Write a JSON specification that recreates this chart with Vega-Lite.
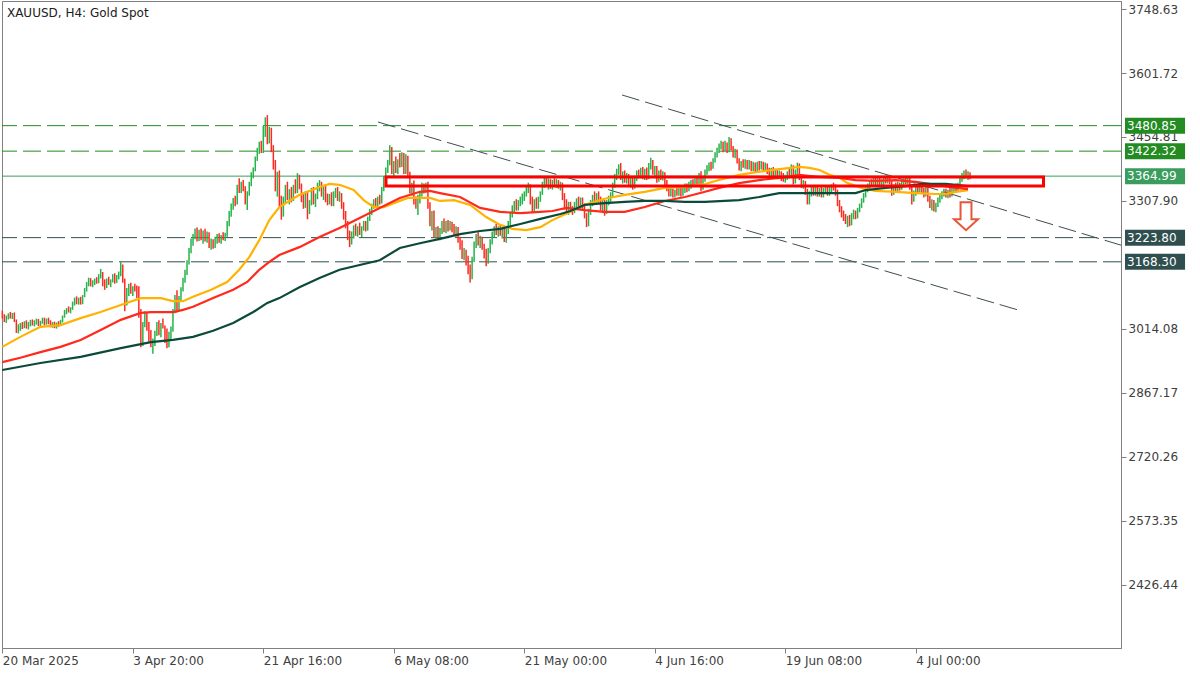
{
"$schema":"https://vega.github.io/schema/vega-lite/v6.json",
"autosize":"none","width":1119,"height":647,
"padding":{"left":2,"top":1,"right":79,"bottom":27},
"background":"white",
"config":{"view":{"stroke":"#808080","strokeWidth":1},"font":"DejaVu Sans"},
"datasets":{
"candles":[
{"i":0,"o":3050,"h":3056,"l":3038,"c":3040},{"i":1,"o":3040,"h":3048,"l":3030,"c":3034},{"i":2,"o":3034,"h":3045,"l":3028,"c":3041},{"i":3,"o":3041,"h":3050,"l":3036,"c":3047},{"i":4,"o":3047,"h":3053,"l":3038,"c":3042},{"i":5,"o":3042,"h":3051,"l":3037,"c":3048},{"i":6,"o":3048,"h":3052,"l":3030,"c":3033},{"i":7,"o":3033,"h":3036,"l":3005,"c":3012},{"i":8,"o":3012,"h":3025,"l":3004,"c":3018},{"i":9,"o":3018,"h":3028,"l":3010,"c":3024},
{"i":10,"o":3024,"h":3030,"l":3014,"c":3020},{"i":11,"o":3020,"h":3032,"l":3016,"c":3028},{"i":12,"o":3028,"h":3034,"l":3015,"c":3019},{"i":13,"o":3019,"h":3030,"l":3013,"c":3026},{"i":14,"o":3026,"h":3035,"l":3020,"c":3031},{"i":15,"o":3031,"h":3036,"l":3022,"c":3025},{"i":16,"o":3025,"h":3034,"l":3020,"c":3030},{"i":17,"o":3030,"h":3038,"l":3024,"c":3034},{"i":18,"o":3034,"h":3037,"l":3021,"c":3024},{"i":19,"o":3024,"h":3033,"l":3019,"c":3030},
{"i":20,"o":3030,"h":3040,"l":3026,"c":3036},{"i":21,"o":3036,"h":3040,"l":3022,"c":3026},{"i":22,"o":3026,"h":3038,"l":3024,"c":3035},{"i":23,"o":3035,"h":3040,"l":3025,"c":3028},{"i":24,"o":3028,"h":3034,"l":3018,"c":3022},{"i":25,"o":3022,"h":3030,"l":3017,"c":3027},{"i":26,"o":3027,"h":3031,"l":3016,"c":3020},{"i":27,"o":3020,"h":3029,"l":3015,"c":3026},{"i":28,"o":3026,"h":3032,"l":3019,"c":3023},{"i":29,"o":3023,"h":3035,"l":3021,"c":3032},
{"i":30,"o":3032,"h":3045,"l":3029,"c":3042},{"i":31,"o":3042,"h":3058,"l":3040,"c":3055},{"i":32,"o":3055,"h":3062,"l":3048,"c":3058},{"i":33,"o":3058,"h":3066,"l":3052,"c":3054},{"i":34,"o":3054,"h":3064,"l":3050,"c":3061},{"i":35,"o":3061,"h":3077,"l":3058,"c":3074},{"i":36,"o":3074,"h":3086,"l":3068,"c":3080},{"i":37,"o":3080,"h":3089,"l":3071,"c":3075},{"i":38,"o":3075,"h":3086,"l":3070,"c":3083},{"i":39,"o":3083,"h":3088,"l":3070,"c":3073},
{"i":40,"o":3073,"h":3092,"l":3071,"c":3090},{"i":41,"o":3090,"h":3108,"l":3087,"c":3104},{"i":42,"o":3104,"h":3122,"l":3100,"c":3118},{"i":43,"o":3118,"h":3132,"l":3112,"c":3127},{"i":44,"o":3127,"h":3131,"l":3112,"c":3116},{"i":45,"o":3116,"h":3126,"l":3110,"c":3122},{"i":46,"o":3122,"h":3130,"l":3115,"c":3127},{"i":47,"o":3127,"h":3133,"l":3118,"c":3121},{"i":48,"o":3121,"h":3140,"l":3119,"c":3136},{"i":49,"o":3136,"h":3152,"l":3130,"c":3141},
{"i":50,"o":3141,"h":3145,"l":3112,"c":3116},{"i":51,"o":3116,"h":3128,"l":3104,"c":3110},{"i":52,"o":3110,"h":3130,"l":3108,"c":3126},{"i":53,"o":3126,"h":3134,"l":3115,"c":3119},{"i":54,"o":3119,"h":3128,"l":3110,"c":3124},{"i":55,"o":3124,"h":3140,"l":3121,"c":3136},{"i":56,"o":3136,"h":3142,"l":3118,"c":3122},{"i":57,"o":3122,"h":3138,"l":3120,"c":3134},{"i":58,"o":3134,"h":3146,"l":3128,"c":3140},{"i":59,"o":3140,"h":3168,"l":3135,"c":3158},
{"i":60,"o":3158,"h":3162,"l":3120,"c":3125},{"i":61,"o":3125,"h":3130,"l":3055,"c":3072},{"i":62,"o":3072,"h":3108,"l":3068,"c":3102},{"i":63,"o":3102,"h":3118,"l":3090,"c":3112},{"i":64,"o":3112,"h":3120,"l":3095,"c":3100},{"i":65,"o":3100,"h":3112,"l":3090,"c":3108},{"i":66,"o":3108,"h":3118,"l":3100,"c":3104},{"i":67,"o":3104,"h":3114,"l":3085,"c":3090},{"i":68,"o":3090,"h":3112,"l":3040,"c":3048},{"i":69,"o":3048,"h":3060,"l":2972,"c":2985},
{"i":70,"o":2985,"h":3030,"l":2975,"c":3022},{"i":71,"o":3022,"h":3055,"l":3018,"c":3048},{"i":72,"o":3048,"h":3052,"l":3010,"c":3018},{"i":73,"o":3018,"h":3030,"l":2985,"c":2995},{"i":74,"o":2995,"h":3012,"l":2972,"c":2978},{"i":75,"o":2978,"h":2992,"l":2957,"c":2986},{"i":76,"o":2986,"h":3010,"l":2975,"c":3005},{"i":77,"o":3005,"h":3030,"l":2998,"c":3020},{"i":78,"o":3020,"h":3034,"l":3000,"c":3008},{"i":79,"o":3008,"h":3028,"l":2995,"c":3024},
{"i":80,"o":3024,"h":3038,"l":3015,"c":3018},{"i":81,"o":3018,"h":3022,"l":2982,"c":2988},{"i":82,"o":2988,"h":3015,"l":2970,"c":2978},{"i":83,"o":2978,"h":3008,"l":2972,"c":3002},{"i":84,"o":3002,"h":3020,"l":2990,"c":3012},{"i":85,"o":3012,"h":3060,"l":3008,"c":3055},{"i":86,"o":3055,"h":3092,"l":3050,"c":3085},{"i":87,"o":3085,"h":3103,"l":3052,"c":3060},{"i":88,"o":3060,"h":3090,"l":3055,"c":3084},{"i":89,"o":3084,"h":3110,"l":3078,"c":3104},
{"i":90,"o":3104,"h":3132,"l":3100,"c":3126},{"i":91,"o":3126,"h":3150,"l":3120,"c":3145},{"i":92,"o":3145,"h":3172,"l":3138,"c":3168},{"i":93,"o":3168,"h":3200,"l":3162,"c":3195},{"i":94,"o":3195,"h":3222,"l":3188,"c":3218},{"i":95,"o":3218,"h":3232,"l":3205,"c":3228},{"i":96,"o":3228,"h":3245,"l":3220,"c":3238},{"i":97,"o":3238,"h":3247,"l":3215,"c":3220},{"i":98,"o":3220,"h":3242,"l":3216,"c":3236},{"i":99,"o":3236,"h":3245,"l":3218,"c":3222},
{"i":100,"o":3222,"h":3240,"l":3210,"c":3234},{"i":101,"o":3234,"h":3244,"l":3215,"c":3218},{"i":102,"o":3218,"h":3238,"l":3212,"c":3230},{"i":103,"o":3230,"h":3236,"l":3200,"c":3206},{"i":104,"o":3206,"h":3222,"l":3196,"c":3215},{"i":105,"o":3215,"h":3220,"l":3198,"c":3204},{"i":106,"o":3204,"h":3226,"l":3200,"c":3220},{"i":107,"o":3220,"h":3232,"l":3210,"c":3226},{"i":108,"o":3226,"h":3234,"l":3212,"c":3216},{"i":109,"o":3216,"h":3230,"l":3210,"c":3226},
{"i":110,"o":3226,"h":3236,"l":3218,"c":3222},{"i":111,"o":3222,"h":3235,"l":3216,"c":3232},{"i":112,"o":3232,"h":3262,"l":3226,"c":3256},{"i":113,"o":3256,"h":3285,"l":3250,"c":3280},{"i":114,"o":3280,"h":3302,"l":3272,"c":3296},{"i":115,"o":3296,"h":3315,"l":3288,"c":3310},{"i":116,"o":3310,"h":3320,"l":3296,"c":3304},{"i":117,"o":3304,"h":3345,"l":3300,"c":3338},{"i":118,"o":3338,"h":3360,"l":3326,"c":3332},{"i":119,"o":3332,"h":3352,"l":3326,"c":3348},
{"i":120,"o":3348,"h":3356,"l":3330,"c":3336},{"i":121,"o":3336,"h":3342,"l":3300,"c":3306},{"i":122,"o":3306,"h":3330,"l":3287,"c":3325},{"i":123,"o":3325,"h":3352,"l":3320,"c":3348},{"i":124,"o":3348,"h":3374,"l":3342,"c":3368},{"i":125,"o":3368,"h":3385,"l":3360,"c":3380},{"i":126,"o":3380,"h":3410,"l":3376,"c":3405},{"i":127,"o":3405,"h":3430,"l":3400,"c":3424},{"i":128,"o":3424,"h":3444,"l":3416,"c":3440},{"i":129,"o":3440,"h":3446,"l":3418,"c":3422},
{"i":130,"o":3422,"h":3480,"l":3418,"c":3472},{"i":131,"o":3472,"h":3500,"l":3455,"c":3490},{"i":132,"o":3490,"h":3505,"l":3438,"c":3446},{"i":133,"o":3446,"h":3478,"l":3440,"c":3470},{"i":134,"o":3470,"h":3476,"l":3420,"c":3428},{"i":135,"o":3428,"h":3436,"l":3380,"c":3390},{"i":136,"o":3390,"h":3402,"l":3330,"c":3340},{"i":137,"o":3340,"h":3375,"l":3318,"c":3368},{"i":138,"o":3368,"h":3378,"l":3295,"c":3305},{"i":139,"o":3305,"h":3320,"l":3265,"c":3280},
{"i":140,"o":3280,"h":3318,"l":3272,"c":3310},{"i":141,"o":3310,"h":3345,"l":3302,"c":3338},{"i":142,"o":3338,"h":3352,"l":3310,"c":3318},{"i":143,"o":3318,"h":3335,"l":3300,"c":3328},{"i":144,"o":3328,"h":3340,"l":3305,"c":3312},{"i":145,"o":3312,"h":3345,"l":3308,"c":3340},{"i":146,"o":3340,"h":3358,"l":3325,"c":3330},{"i":147,"o":3330,"h":3372,"l":3326,"c":3362},{"i":148,"o":3362,"h":3368,"l":3335,"c":3340},{"i":149,"o":3340,"h":3348,"l":3305,"c":3312},
{"i":150,"o":3312,"h":3325,"l":3290,"c":3298},{"i":151,"o":3298,"h":3330,"l":3292,"c":3322},{"i":152,"o":3322,"h":3330,"l":3266,"c":3285},{"i":153,"o":3285,"h":3310,"l":3278,"c":3302},{"i":154,"o":3302,"h":3338,"l":3298,"c":3330},{"i":155,"o":3330,"h":3340,"l":3300,"c":3308},{"i":156,"o":3308,"h":3325,"l":3294,"c":3318},{"i":157,"o":3318,"h":3350,"l":3312,"c":3344},{"i":158,"o":3344,"h":3356,"l":3330,"c":3348},{"i":159,"o":3348,"h":3352,"l":3318,"c":3324},
{"i":160,"o":3324,"h":3340,"l":3310,"c":3334},{"i":161,"o":3334,"h":3345,"l":3305,"c":3312},{"i":162,"o":3312,"h":3325,"l":3298,"c":3306},{"i":163,"o":3306,"h":3324,"l":3300,"c":3320},{"i":164,"o":3320,"h":3328,"l":3296,"c":3300},{"i":165,"o":3300,"h":3330,"l":3296,"c":3326},{"i":166,"o":3326,"h":3338,"l":3315,"c":3332},{"i":167,"o":3332,"h":3340,"l":3308,"c":3314},{"i":168,"o":3314,"h":3330,"l":3306,"c":3322},{"i":169,"o":3322,"h":3326,"l":3290,"c":3296},
{"i":170,"o":3296,"h":3305,"l":3265,"c":3272},{"i":171,"o":3272,"h":3285,"l":3245,"c":3252},{"i":172,"o":3252,"h":3262,"l":3218,"c":3226},{"i":173,"o":3226,"h":3240,"l":3202,"c":3212},{"i":174,"o":3212,"h":3238,"l":3208,"c":3232},{"i":175,"o":3232,"h":3252,"l":3222,"c":3246},{"i":176,"o":3246,"h":3256,"l":3228,"c":3234},{"i":177,"o":3234,"h":3250,"l":3226,"c":3244},{"i":178,"o":3244,"h":3258,"l":3230,"c":3236},{"i":179,"o":3236,"h":3250,"l":3225,"c":3246},
{"i":180,"o":3246,"h":3262,"l":3240,"c":3256},{"i":181,"o":3256,"h":3262,"l":3238,"c":3244},{"i":182,"o":3244,"h":3272,"l":3240,"c":3268},{"i":183,"o":3268,"h":3290,"l":3262,"c":3284},{"i":184,"o":3284,"h":3302,"l":3276,"c":3298},{"i":185,"o":3298,"h":3312,"l":3290,"c":3306},{"i":186,"o":3306,"h":3315,"l":3292,"c":3298},{"i":187,"o":3298,"h":3318,"l":3294,"c":3312},{"i":188,"o":3312,"h":3322,"l":3300,"c":3306},{"i":189,"o":3306,"h":3340,"l":3302,"c":3335},
{"i":190,"o":3335,"h":3365,"l":3330,"c":3360},{"i":191,"o":3360,"h":3385,"l":3352,"c":3378},{"i":192,"o":3378,"h":3402,"l":3372,"c":3396},{"i":193,"o":3396,"h":3436,"l":3390,"c":3420},{"i":194,"o":3420,"h":3432,"l":3370,"c":3378},{"i":195,"o":3378,"h":3400,"l":3362,"c":3392},{"i":196,"o":3392,"h":3410,"l":3372,"c":3380},{"i":197,"o":3380,"h":3404,"l":3370,"c":3398},{"i":198,"o":3398,"h":3418,"l":3385,"c":3390},{"i":199,"o":3390,"h":3420,"l":3386,"c":3412},
{"i":200,"o":3412,"h":3418,"l":3370,"c":3376},{"i":201,"o":3376,"h":3415,"l":3370,"c":3408},{"i":202,"o":3408,"h":3412,"l":3360,"c":3366},{"i":203,"o":3366,"h":3375,"l":3325,"c":3332},{"i":204,"o":3332,"h":3350,"l":3320,"c":3342},{"i":205,"o":3342,"h":3355,"l":3300,"c":3306},{"i":206,"o":3306,"h":3318,"l":3290,"c":3296},{"i":207,"o":3296,"h":3322,"l":3276,"c":3316},{"i":208,"o":3316,"h":3330,"l":3302,"c":3326},{"i":209,"o":3326,"h":3350,"l":3318,"c":3344},
{"i":210,"o":3344,"h":3348,"l":3325,"c":3332},{"i":211,"o":3332,"h":3350,"l":3326,"c":3346},{"i":212,"o":3346,"h":3352,"l":3290,"c":3296},{"i":213,"o":3296,"h":3305,"l":3250,"c":3258},{"i":214,"o":3258,"h":3285,"l":3240,"c":3276},{"i":215,"o":3276,"h":3286,"l":3224,"c":3230},{"i":216,"o":3230,"h":3248,"l":3222,"c":3242},{"i":217,"o":3242,"h":3250,"l":3220,"c":3226},{"i":218,"o":3226,"h":3246,"l":3218,"c":3240},{"i":219,"o":3240,"h":3262,"l":3232,"c":3256},
{"i":220,"o":3256,"h":3268,"l":3236,"c":3242},{"i":221,"o":3242,"h":3262,"l":3234,"c":3256},{"i":222,"o":3256,"h":3264,"l":3238,"c":3244},{"i":223,"o":3244,"h":3262,"l":3240,"c":3254},{"i":224,"o":3254,"h":3260,"l":3236,"c":3242},{"i":225,"o":3242,"h":3255,"l":3230,"c":3236},{"i":226,"o":3236,"h":3250,"l":3226,"c":3244},{"i":227,"o":3244,"h":3248,"l":3212,"c":3218},{"i":228,"o":3218,"h":3226,"l":3196,"c":3202},{"i":229,"o":3202,"h":3218,"l":3175,"c":3184},
{"i":230,"o":3184,"h":3200,"l":3172,"c":3192},{"i":231,"o":3192,"h":3196,"l":3160,"c":3168},{"i":232,"o":3168,"h":3182,"l":3140,"c":3150},{"i":233,"o":3150,"h":3162,"l":3121,"c":3132},{"i":234,"o":3132,"h":3180,"l":3128,"c":3172},{"i":235,"o":3172,"h":3215,"l":3168,"c":3208},{"i":236,"o":3208,"h":3232,"l":3200,"c":3226},{"i":237,"o":3226,"h":3236,"l":3206,"c":3212},{"i":238,"o":3212,"h":3228,"l":3200,"c":3220},{"i":239,"o":3220,"h":3226,"l":3196,"c":3202},
{"i":240,"o":3202,"h":3210,"l":3176,"c":3184},{"i":241,"o":3184,"h":3198,"l":3158,"c":3168},{"i":242,"o":3168,"h":3200,"l":3164,"c":3194},{"i":243,"o":3194,"h":3220,"l":3188,"c":3214},{"i":244,"o":3214,"h":3238,"l":3208,"c":3232},{"i":245,"o":3232,"h":3250,"l":3224,"c":3244},{"i":246,"o":3244,"h":3255,"l":3230,"c":3236},{"i":247,"o":3236,"h":3250,"l":3226,"c":3246},{"i":248,"o":3246,"h":3252,"l":3228,"c":3234},{"i":249,"o":3234,"h":3246,"l":3222,"c":3240},
{"i":250,"o":3240,"h":3246,"l":3214,"c":3220},{"i":251,"o":3220,"h":3244,"l":3212,"c":3238},{"i":252,"o":3238,"h":3262,"l":3232,"c":3258},{"i":253,"o":3258,"h":3282,"l":3252,"c":3276},{"i":254,"o":3276,"h":3298,"l":3270,"c":3292},{"i":255,"o":3292,"h":3308,"l":3282,"c":3300},{"i":256,"o":3300,"h":3312,"l":3286,"c":3292},{"i":257,"o":3292,"h":3310,"l":3286,"c":3304},{"i":258,"o":3304,"h":3318,"l":3296,"c":3312},{"i":259,"o":3312,"h":3325,"l":3300,"c":3318},
{"i":260,"o":3318,"h":3330,"l":3308,"c":3326},{"i":261,"o":3326,"h":3340,"l":3318,"c":3334},{"i":262,"o":3334,"h":3350,"l":3326,"c":3344},{"i":263,"o":3344,"h":3346,"l":3300,"c":3306},{"i":264,"o":3306,"h":3318,"l":3282,"c":3290},{"i":265,"o":3290,"h":3312,"l":3284,"c":3306},{"i":266,"o":3306,"h":3316,"l":3290,"c":3296},{"i":267,"o":3296,"h":3318,"l":3290,"c":3314},{"i":268,"o":3314,"h":3330,"l":3306,"c":3326},{"i":269,"o":3326,"h":3352,"l":3322,"c":3346},
{"i":270,"o":3346,"h":3362,"l":3338,"c":3356},{"i":271,"o":3356,"h":3362,"l":3340,"c":3346},{"i":272,"o":3346,"h":3360,"l":3334,"c":3354},{"i":273,"o":3354,"h":3358,"l":3336,"c":3340},{"i":274,"o":3340,"h":3356,"l":3334,"c":3350},{"i":275,"o":3350,"h":3360,"l":3340,"c":3344},{"i":276,"o":3344,"h":3358,"l":3338,"c":3352},{"i":277,"o":3352,"h":3356,"l":3336,"c":3342},{"i":278,"o":3342,"h":3352,"l":3332,"c":3346},{"i":279,"o":3346,"h":3350,"l":3310,"c":3316},
{"i":280,"o":3316,"h":3326,"l":3288,"c":3296},{"i":281,"o":3296,"h":3312,"l":3280,"c":3288},{"i":282,"o":3288,"h":3306,"l":3276,"c":3300},{"i":283,"o":3300,"h":3306,"l":3282,"c":3288},{"i":284,"o":3288,"h":3296,"l":3276,"c":3284},{"i":285,"o":3284,"h":3306,"l":3280,"c":3300},{"i":286,"o":3300,"h":3314,"l":3294,"c":3310},{"i":287,"o":3310,"h":3318,"l":3296,"c":3304},{"i":288,"o":3304,"h":3316,"l":3290,"c":3312},{"i":289,"o":3312,"h":3316,"l":3290,"c":3296},
{"i":290,"o":3296,"h":3302,"l":3268,"c":3274},{"i":291,"o":3274,"h":3280,"l":3248,"c":3256},{"i":292,"o":3256,"h":3290,"l":3250,"c":3284},{"i":293,"o":3284,"h":3310,"l":3276,"c":3304},{"i":294,"o":3304,"h":3322,"l":3296,"c":3316},{"i":295,"o":3316,"h":3330,"l":3306,"c":3310},{"i":296,"o":3310,"h":3326,"l":3302,"c":3322},{"i":297,"o":3322,"h":3330,"l":3304,"c":3312},{"i":298,"o":3312,"h":3318,"l":3286,"c":3292},{"i":299,"o":3292,"h":3310,"l":3280,"c":3304},
{"i":300,"o":3304,"h":3310,"l":3274,"c":3282},{"i":301,"o":3282,"h":3310,"l":3278,"c":3304},{"i":302,"o":3304,"h":3320,"l":3298,"c":3316},{"i":303,"o":3316,"h":3328,"l":3306,"c":3322},{"i":304,"o":3322,"h":3350,"l":3316,"c":3344},{"i":305,"o":3344,"h":3370,"l":3338,"c":3364},{"i":306,"o":3364,"h":3382,"l":3356,"c":3376},{"i":307,"o":3376,"h":3392,"l":3368,"c":3386},{"i":308,"o":3386,"h":3395,"l":3356,"c":3362},{"i":309,"o":3362,"h":3376,"l":3348,"c":3370},
{"i":310,"o":3370,"h":3378,"l":3350,"c":3356},{"i":311,"o":3356,"h":3372,"l":3348,"c":3366},{"i":312,"o":3366,"h":3370,"l":3340,"c":3346},{"i":313,"o":3346,"h":3362,"l":3338,"c":3356},{"i":314,"o":3356,"h":3362,"l":3334,"c":3340},{"i":315,"o":3340,"h":3366,"l":3336,"c":3360},{"i":316,"o":3360,"h":3378,"l":3354,"c":3372},{"i":317,"o":3372,"h":3380,"l":3360,"c":3366},{"i":318,"o":3366,"h":3384,"l":3360,"c":3378},{"i":319,"o":3378,"h":3386,"l":3358,"c":3364},
{"i":320,"o":3364,"h":3382,"l":3356,"c":3374},{"i":321,"o":3374,"h":3385,"l":3356,"c":3362},{"i":322,"o":3362,"h":3395,"l":3358,"c":3390},{"i":323,"o":3390,"h":3407,"l":3380,"c":3398},{"i":324,"o":3398,"h":3402,"l":3368,"c":3374},{"i":325,"o":3374,"h":3388,"l":3360,"c":3382},{"i":326,"o":3382,"h":3388,"l":3350,"c":3358},{"i":327,"o":3358,"h":3378,"l":3352,"c":3372},{"i":328,"o":3372,"h":3380,"l":3356,"c":3362},{"i":329,"o":3362,"h":3376,"l":3355,"c":3370},
{"i":330,"o":3370,"h":3374,"l":3340,"c":3346},{"i":331,"o":3346,"h":3356,"l":3330,"c":3336},{"i":332,"o":3336,"h":3342,"l":3318,"c":3324},{"i":333,"o":3324,"h":3338,"l":3318,"c":3332},{"i":334,"o":3332,"h":3336,"l":3316,"c":3320},{"i":335,"o":3320,"h":3334,"l":3316,"c":3330},{"i":336,"o":3330,"h":3338,"l":3320,"c":3326},{"i":337,"o":3326,"h":3340,"l":3320,"c":3336},{"i":338,"o":3336,"h":3340,"l":3318,"c":3324},{"i":339,"o":3324,"h":3342,"l":3320,"c":3338},
{"i":340,"o":3338,"h":3348,"l":3326,"c":3342},{"i":341,"o":3342,"h":3348,"l":3328,"c":3334},{"i":342,"o":3334,"h":3352,"l":3330,"c":3346},{"i":343,"o":3346,"h":3356,"l":3336,"c":3350},{"i":344,"o":3350,"h":3358,"l":3340,"c":3344},{"i":345,"o":3344,"h":3360,"l":3340,"c":3356},{"i":346,"o":3356,"h":3365,"l":3345,"c":3350},{"i":347,"o":3350,"h":3372,"l":3346,"c":3366},{"i":348,"o":3366,"h":3376,"l":3330,"c":3338},{"i":349,"o":3338,"h":3362,"l":3334,"c":3358},
{"i":350,"o":3358,"h":3380,"l":3352,"c":3374},{"i":351,"o":3374,"h":3390,"l":3368,"c":3384},{"i":352,"o":3384,"h":3396,"l":3376,"c":3390},{"i":353,"o":3390,"h":3398,"l":3378,"c":3386},{"i":354,"o":3386,"h":3406,"l":3382,"c":3402},{"i":355,"o":3402,"h":3420,"l":3396,"c":3414},{"i":356,"o":3414,"h":3430,"l":3408,"c":3425},{"i":357,"o":3425,"h":3440,"l":3418,"c":3434},{"i":358,"o":3434,"h":3446,"l":3426,"c":3440},{"i":359,"o":3440,"h":3444,"l":3420,"c":3426},
{"i":360,"o":3426,"h":3446,"l":3422,"c":3438},{"i":361,"o":3438,"h":3442,"l":3418,"c":3424},{"i":362,"o":3424,"h":3455,"l":3420,"c":3448},{"i":363,"o":3448,"h":3452,"l":3424,"c":3430},{"i":364,"o":3430,"h":3434,"l":3408,"c":3412},{"i":365,"o":3412,"h":3428,"l":3406,"c":3422},{"i":366,"o":3422,"h":3426,"l":3394,"c":3398},{"i":367,"o":3398,"h":3406,"l":3378,"c":3384},{"i":368,"o":3384,"h":3400,"l":3376,"c":3394},{"i":369,"o":3394,"h":3404,"l":3384,"c":3390},
{"i":370,"o":3390,"h":3404,"l":3382,"c":3398},{"i":371,"o":3398,"h":3402,"l":3380,"c":3386},{"i":372,"o":3386,"h":3402,"l":3380,"c":3396},{"i":373,"o":3396,"h":3400,"l":3376,"c":3382},{"i":374,"o":3382,"h":3398,"l":3376,"c":3390},{"i":375,"o":3390,"h":3396,"l":3374,"c":3380},{"i":376,"o":3380,"h":3398,"l":3374,"c":3392},{"i":377,"o":3392,"h":3400,"l":3378,"c":3384},{"i":378,"o":3384,"h":3400,"l":3380,"c":3394},{"i":379,"o":3394,"h":3398,"l":3376,"c":3382},
{"i":380,"o":3382,"h":3396,"l":3376,"c":3390},{"i":381,"o":3390,"h":3394,"l":3370,"c":3374},{"i":382,"o":3374,"h":3384,"l":3366,"c":3370},{"i":383,"o":3370,"h":3384,"l":3364,"c":3380},{"i":384,"o":3380,"h":3386,"l":3362,"c":3368},{"i":385,"o":3368,"h":3382,"l":3362,"c":3376},{"i":386,"o":3376,"h":3380,"l":3358,"c":3364},{"i":387,"o":3364,"h":3378,"l":3360,"c":3372},{"i":388,"o":3372,"h":3376,"l":3354,"c":3360},{"i":389,"o":3360,"h":3372,"l":3352,"c":3356},
{"i":390,"o":3356,"h":3368,"l":3350,"c":3362},{"i":391,"o":3362,"h":3376,"l":3356,"c":3372},{"i":392,"o":3372,"h":3382,"l":3360,"c":3366},{"i":393,"o":3366,"h":3392,"l":3362,"c":3386},{"i":394,"o":3386,"h":3390,"l":3346,"c":3352},{"i":395,"o":3352,"h":3380,"l":3348,"c":3376},{"i":396,"o":3376,"h":3396,"l":3370,"c":3390},{"i":397,"o":3390,"h":3394,"l":3356,"c":3360},{"i":398,"o":3360,"h":3366,"l":3338,"c":3344},{"i":399,"o":3344,"h":3356,"l":3336,"c":3350},
{"i":400,"o":3350,"h":3354,"l":3322,"c":3328},{"i":401,"o":3328,"h":3336,"l":3300,"c":3308},{"i":402,"o":3308,"h":3330,"l":3300,"c":3324},{"i":403,"o":3324,"h":3340,"l":3318,"c":3334},{"i":404,"o":3334,"h":3344,"l":3320,"c":3326},{"i":405,"o":3326,"h":3342,"l":3320,"c":3338},{"i":406,"o":3338,"h":3342,"l":3318,"c":3322},{"i":407,"o":3322,"h":3338,"l":3318,"c":3334},{"i":408,"o":3334,"h":3340,"l":3316,"c":3320},{"i":409,"o":3320,"h":3338,"l":3316,"c":3332},
{"i":410,"o":3332,"h":3344,"l":3326,"c":3340},{"i":411,"o":3340,"h":3344,"l":3320,"c":3324},{"i":412,"o":3324,"h":3340,"l":3320,"c":3336},{"i":413,"o":3336,"h":3346,"l":3328,"c":3342},{"i":414,"o":3342,"h":3350,"l":3332,"c":3338},{"i":415,"o":3338,"h":3346,"l":3320,"c":3326},{"i":416,"o":3326,"h":3334,"l":3296,"c":3302},{"i":417,"o":3302,"h":3310,"l":3282,"c":3288},{"i":418,"o":3288,"h":3296,"l":3270,"c":3276},{"i":419,"o":3276,"h":3286,"l":3262,"c":3268},
{"i":420,"o":3268,"h":3278,"l":3255,"c":3262},{"i":421,"o":3262,"h":3274,"l":3248,"c":3270},{"i":422,"o":3270,"h":3276,"l":3250,"c":3258},{"i":423,"o":3258,"h":3280,"l":3252,"c":3274},{"i":424,"o":3274,"h":3288,"l":3266,"c":3282},{"i":425,"o":3282,"h":3286,"l":3266,"c":3272},{"i":426,"o":3272,"h":3292,"l":3268,"c":3288},{"i":427,"o":3288,"h":3302,"l":3282,"c":3298},{"i":428,"o":3298,"h":3314,"l":3292,"c":3310},{"i":429,"o":3310,"h":3326,"l":3304,"c":3322},
{"i":430,"o":3322,"h":3340,"l":3316,"c":3334},{"i":431,"o":3334,"h":3348,"l":3328,"c":3344},{"i":432,"o":3344,"h":3356,"l":3336,"c":3350},{"i":433,"o":3350,"h":3358,"l":3340,"c":3346},{"i":434,"o":3346,"h":3364,"l":3342,"c":3358},{"i":435,"o":3358,"h":3362,"l":3340,"c":3348},{"i":436,"o":3348,"h":3360,"l":3342,"c":3356},{"i":437,"o":3356,"h":3362,"l":3340,"c":3346},{"i":438,"o":3346,"h":3358,"l":3340,"c":3354},{"i":439,"o":3354,"h":3362,"l":3344,"c":3358},
{"i":440,"o":3358,"h":3366,"l":3348,"c":3352},{"i":441,"o":3352,"h":3368,"l":3348,"c":3362},{"i":442,"o":3362,"h":3368,"l":3346,"c":3350},{"i":443,"o":3350,"h":3356,"l":3320,"c":3326},{"i":444,"o":3326,"h":3346,"l":3322,"c":3340},{"i":445,"o":3340,"h":3350,"l":3330,"c":3334},{"i":446,"o":3334,"h":3352,"l":3330,"c":3346},{"i":447,"o":3346,"h":3350,"l":3332,"c":3338},{"i":448,"o":3338,"h":3354,"l":3334,"c":3350},{"i":449,"o":3350,"h":3360,"l":3342,"c":3356},
{"i":450,"o":3356,"h":3362,"l":3346,"c":3350},{"i":451,"o":3350,"h":3364,"l":3346,"c":3360},{"i":452,"o":3360,"h":3362,"l":3334,"c":3338},{"i":453,"o":3338,"h":3342,"l":3300,"c":3310},{"i":454,"o":3310,"h":3332,"l":3306,"c":3326},{"i":455,"o":3326,"h":3344,"l":3320,"c":3338},{"i":456,"o":3338,"h":3346,"l":3326,"c":3332},{"i":457,"o":3332,"h":3350,"l":3328,"c":3344},{"i":458,"o":3344,"h":3348,"l":3326,"c":3330},{"i":459,"o":3330,"h":3338,"l":3316,"c":3322},
{"i":460,"o":3322,"h":3342,"l":3318,"c":3336},{"i":461,"o":3336,"h":3340,"l":3306,"c":3312},{"i":462,"o":3312,"h":3320,"l":3292,"c":3298},{"i":463,"o":3298,"h":3312,"l":3286,"c":3306},{"i":464,"o":3306,"h":3310,"l":3284,"c":3290},{"i":465,"o":3290,"h":3304,"l":3282,"c":3300},{"i":466,"o":3300,"h":3316,"l":3294,"c":3310},{"i":467,"o":3310,"h":3324,"l":3304,"c":3318},{"i":468,"o":3318,"h":3330,"l":3312,"c":3326},{"i":469,"o":3326,"h":3336,"l":3318,"c":3332},
{"i":470,"o":3332,"h":3336,"l":3316,"c":3320},{"i":471,"o":3320,"h":3334,"l":3314,"c":3328},{"i":472,"o":3328,"h":3338,"l":3316,"c":3322},{"i":473,"o":3322,"h":3340,"l":3318,"c":3336},{"i":474,"o":3336,"h":3346,"l":3328,"c":3340},{"i":475,"o":3340,"h":3348,"l":3328,"c":3332},{"i":476,"o":3332,"h":3350,"l":3330,"c":3346},{"i":477,"o":3346,"h":3362,"l":3340,"c":3358},{"i":478,"o":3358,"h":3372,"l":3352,"c":3366},{"i":479,"o":3366,"h":3378,"l":3358,"c":3372},
{"i":480,"o":3372,"h":3380,"l":3360,"c":3364},{"i":481,"o":3364,"h":3376,"l":3356,"c":3370},{"i":482,"o":3370,"h":3374,"l":3358,"c":3365}
],
"ma":[
{"s":"fast","i":0,"p":2973},{"s":"fast","i":9,"p":2996},{"s":"fast","i":19,"p":3019},{"s":"fast","i":29,"p":3023},{"s":"fast","i":39,"p":3039},{"s":"fast","i":49,"p":3053},{"s":"fast","i":59,"p":3069},{"s":"fast","i":69,"p":3085},{"s":"fast","i":79,"p":3085},{"s":"fast","i":85,"p":3078},{"s":"fast","i":90,"p":3078},{"s":"fast","i":95,"p":3088},{"s":"fast","i":104,"p":3104},{"s":"fast","i":112,"p":3122},{"s":"fast","i":118,"p":3150},{"s":"fast","i":123,"p":3179},{"s":"fast","i":128,"p":3218},{"s":"fast","i":133,"p":3264},{"s":"fast","i":138,"p":3294},{"s":"fast","i":148,"p":3322},{"s":"fast","i":158,"p":3340},{"s":"fast","i":163,"p":3347},{"s":"fast","i":168,"p":3345},{"s":"fast","i":175,"p":3333},{"s":"fast","i":180,"p":3310},{"s":"fast","i":185,"p":3294},{"s":"fast","i":190,"p":3294},{"s":"fast","i":195,"p":3303},{"s":"fast","i":202,"p":3315},{"s":"fast","i":213,"p":3315},{"s":"fast","i":218,"p":3308},{"s":"fast","i":225,"p":3310},{"s":"fast","i":233,"p":3299},{"s":"fast","i":241,"p":3271},{"s":"fast","i":248,"p":3253},{"s":"fast","i":254,"p":3244},{"s":"fast","i":261,"p":3241},{"s":"fast","i":268,"p":3248},{"s":"fast","i":274,"p":3264},{"s":"fast","i":283,"p":3283},{"s":"fast","i":290,"p":3299},{"s":"fast","i":300,"p":3313},{"s":"fast","i":310,"p":3322},{"s":"fast","i":320,"p":3329},{"s":"fast","i":330,"p":3338},{"s":"fast","i":340,"p":3340},{"s":"fast","i":350,"p":3347},{"s":"fast","i":357,"p":3356},{"s":"fast","i":367,"p":3368},{"s":"fast","i":377,"p":3375},{"s":"fast","i":387,"p":3381},{"s":"fast","i":397,"p":3386},{"s":"fast","i":402,"p":3384},{"s":"fast","i":407,"p":3379},{"s":"fast","i":412,"p":3368},{"s":"fast","i":417,"p":3361},{"s":"fast","i":421,"p":3349},{"s":"fast","i":428,"p":3338},{"s":"fast","i":435,"p":3331},{"s":"fast","i":445,"p":3329},{"s":"fast","i":455,"p":3326},{"s":"fast","i":465,"p":3324},{"s":"fast","i":470,"p":3324},{"s":"fast","i":475,"p":3329},{"s":"fast","i":481,"p":3333},
{"s":"mid","i":0,"p":2938},{"s":"mid","i":9,"p":2948},{"s":"mid","i":19,"p":2961},{"s":"mid","i":29,"p":2973},{"s":"mid","i":39,"p":2989},{"s":"mid","i":49,"p":3012},{"s":"mid","i":59,"p":3035},{"s":"mid","i":69,"p":3051},{"s":"mid","i":74,"p":3053},{"s":"mid","i":85,"p":3053},{"s":"mid","i":90,"p":3058},{"s":"mid","i":95,"p":3065},{"s":"mid","i":105,"p":3085},{"s":"mid","i":115,"p":3104},{"s":"mid","i":122,"p":3122},{"s":"mid","i":128,"p":3150},{"s":"mid","i":133,"p":3168},{"s":"mid","i":138,"p":3184},{"s":"mid","i":148,"p":3202},{"s":"mid","i":158,"p":3225},{"s":"mid","i":168,"p":3246},{"s":"mid","i":178,"p":3269},{"s":"mid","i":188,"p":3292},{"s":"mid","i":198,"p":3315},{"s":"mid","i":208,"p":3329},{"s":"mid","i":213,"p":3331},{"s":"mid","i":218,"p":3326},{"s":"mid","i":228,"p":3317},{"s":"mid","i":238,"p":3292},{"s":"mid","i":248,"p":3283},{"s":"mid","i":258,"p":3280},{"s":"mid","i":268,"p":3283},{"s":"mid","i":274,"p":3285},{"s":"mid","i":281,"p":3292},{"s":"mid","i":290,"p":3287},{"s":"mid","i":300,"p":3283},{"s":"mid","i":310,"p":3283},{"s":"mid","i":320,"p":3294},{"s":"mid","i":330,"p":3308},{"s":"mid","i":340,"p":3317},{"s":"mid","i":350,"p":3329},{"s":"mid","i":357,"p":3338},{"s":"mid","i":367,"p":3349},{"s":"mid","i":377,"p":3356},{"s":"mid","i":387,"p":3361},{"s":"mid","i":397,"p":3368},{"s":"mid","i":407,"p":3363},{"s":"mid","i":417,"p":3361},{"s":"mid","i":425,"p":3356},{"s":"mid","i":435,"p":3354},{"s":"mid","i":445,"p":3356},{"s":"mid","i":455,"p":3352},{"s":"mid","i":465,"p":3345},{"s":"mid","i":475,"p":3338},{"s":"mid","i":481,"p":3335},
{"s":"slow","i":0,"p":2920},{"s":"slow","i":19,"p":2936},{"s":"slow","i":39,"p":2950},{"s":"slow","i":59,"p":2970},{"s":"slow","i":74,"p":2984},{"s":"slow","i":85,"p":2989},{"s":"slow","i":95,"p":2996},{"s":"slow","i":105,"p":3010},{"s":"slow","i":115,"p":3028},{"s":"slow","i":125,"p":3053},{"s":"slow","i":132,"p":3074},{"s":"slow","i":138,"p":3085},{"s":"slow","i":148,"p":3110},{"s":"slow","i":158,"p":3131},{"s":"slow","i":168,"p":3150},{"s":"slow","i":178,"p":3161},{"s":"slow","i":188,"p":3172},{"s":"slow","i":198,"p":3200},{"s":"slow","i":208,"p":3211},{"s":"slow","i":218,"p":3221},{"s":"slow","i":228,"p":3232},{"s":"slow","i":238,"p":3239},{"s":"slow","i":248,"p":3244},{"s":"slow","i":258,"p":3255},{"s":"slow","i":268,"p":3267},{"s":"slow","i":278,"p":3278},{"s":"slow","i":283,"p":3285},{"s":"slow","i":290,"p":3299},{"s":"slow","i":300,"p":3303},{"s":"slow","i":310,"p":3306},{"s":"slow","i":320,"p":3308},{"s":"slow","i":330,"p":3308},{"s":"slow","i":340,"p":3306},{"s":"slow","i":350,"p":3306},{"s":"slow","i":367,"p":3310},{"s":"slow","i":377,"p":3317},{"s":"slow","i":387,"p":3326},{"s":"slow","i":397,"p":3326},{"s":"slow","i":407,"p":3326},{"s":"slow","i":417,"p":3326},{"s":"slow","i":425,"p":3326},{"s":"slow","i":430,"p":3333},{"s":"slow","i":440,"p":3338},{"s":"slow","i":450,"p":3342},{"s":"slow","i":458,"p":3347},{"s":"slow","i":470,"p":3347},{"s":"slow","i":481,"p":3342}
],
"levels":[
{"p":3480.85,"kind":"resistance"},{"p":3422.32,"kind":"resistance"},{"p":3364.99,"kind":"last"},{"p":3223.80,"kind":"support"},{"p":3168.30,"kind":"support"}
],
"trend":[
{"line":"upper","i":308.7,"p":3551.2},{"line":"upper","i":557.2,"p":3206.5},
{"line":"lower","i":187.1,"p":3489.2},{"line":"lower","i":506.0,"p":3057.7}
],
"zone":[{"i0":191.1,"i1":518.6,"lo":3342.3,"hi":3363.0}],
"title":[{"t":"XAUUSD, H4:  Gold Spot"}]
},
"layer":[
{"data":{"name":"levels"},
 "mark":{"type":"rule","strokeWidth":1},
 "encoding":{
  "y":{"field":"p","type":"quantitative","title":null},
  "color":{"field":"kind","type":"nominal","scale":{"domain":["resistance","last","support"],"range":["#228B22","#3a9d5d","#2f4f4f"]},"legend":null},
  "strokeDash":{"field":"kind","type":"nominal","scale":{"domain":["resistance","last","support"],"range":[[18,6],[1,0],[18,6]]},"legend":null}
 }},
{"data":{"name":"trend"},
 "mark":{"type":"line","strokeWidth":1,"color":"#3f4d4d","strokeDash":[18,6]},
 "encoding":{
  "x":{"field":"i","type":"quantitative","title":null},
  "y":{"field":"p","type":"quantitative","title":null},
  "detail":{"field":"line","type":"nominal"}
 }},
{"data":{"name":"candles"},
 "mark":{"type":"rule","strokeWidth":1.5},
 "encoding":{
  "x":{"field":"i","type":"quantitative","title":null,
   "scale":{"domain":[-0.15,557.2],"nice":false,"zero":false},
   "axis":{"values":[0,65,130,195,260,325,390,455],
    "labelExpr":"datum.value==0?'20 Mar 2025':datum.value==65?'3 Apr 20:00':datum.value==130?'21 Apr 16:00':datum.value==195?'6 May 08:00':datum.value==260?'21 May 00:00':datum.value==325?'4 Jun 16:00':datum.value==390?'19 Jun 08:00':'4 Jul 00:00'",
    "labelAlign":"left","labelBaseline":"top","labelPadding":2,"tickSize":5,"tickColor":"#808080","domainColor":"#808080","labelColor":"#404040","labelFontSize":12,"labelFont":"DejaVu Sans","grid":false,"labelFlush":false,"labelOverlap":false}},
  "y":{"field":"l","type":"quantitative","title":null,
   "scale":{"domain":[2281.8,3767.0],"nice":false,"zero":false},
   "axis":{"orient":"right","values":[3748.63,3601.72,3454.81,3307.90,3014.08,2867.17,2720.26,2573.35,2426.44],"format":".2f","tickSize":5,"tickColor":"#808080","domainColor":"#808080","labelColor":"#404040","labelFontSize":12,"labelFont":"DejaVu Sans","labelPadding":2,"grid":false,"labelOverlap":false,"labelFlush":false}},
  "y2":{"field":"h"},
  "color":{"condition":{"test":"datum.c >= datum.o","value":"#26b34a"},"value":"#ff2a1f"}
 }},
{"data":{"name":"ma"},
 "mark":{"type":"line","strokeWidth":2.2},
 "encoding":{
  "x":{"field":"i","type":"quantitative","title":null},
  "y":{"field":"p","type":"quantitative","title":null},
  "stroke":{"field":"s","type":"nominal","scale":{"domain":["slow","mid","fast"],"range":["#0b4a3a","#ff2a1c","#ffb300"]},"legend":null},
  "order":{"field":"i","type":"quantitative"}
 }},
{"data":{"name":"zone"},
 "mark":{"type":"rect","fillOpacity":0,"stroke":"#ff0000","strokeWidth":3},
 "encoding":{
  "x":{"field":"i0","type":"quantitative","title":null},
  "x2":{"field":"i1"},
  "y":{"field":"lo","type":"quantitative","title":null},
  "y2":{"field":"hi"}
 }},
{"data":{"values":[{"signal":"down"}]},
 "mark":{"type":"point","shape":"M-0.39,-1L0.39,-1L0.39,0.21L0.86,0.21L0,1L-0.86,0.21L-0.39,0.21Z","size":784,"filled":true,"fill":"#ffffff","stroke":"#e8553a","strokeWidth":2,"opacity":1},
 "encoding":{
  "x":{"datum":480},
  "y":{"datum":3273}
 }},
{"data":{"name":"levels"},
 "mark":{"type":"rect","yOffset":-8,"y2Offset":8},
 "encoding":{
  "x":{"datum":559.2},
  "x2":{"datum":589.1},
  "y":{"field":"p","type":"quantitative","title":null},
  "y2":{"field":"p"},
  "color":{"field":"kind","type":"nominal","legend":null}
 }},
{"data":{"name":"levels"},
 "mark":{"type":"text","align":"left","baseline":"middle","fontSize":12,"font":"DejaVu Sans","fill":"#ffffff","dx":2},
 "encoding":{
  "x":{"datum":559.2},
  "y":{"field":"p","type":"quantitative","title":null},
  "text":{"field":"p","type":"quantitative","format":".2f"}
 }},
{"data":{"name":"title"},
 "mark":{"type":"text","align":"left","baseline":"middle","fontSize":12,"font":"DejaVu Sans","fill":"#202020"},
 "encoding":{
  "x":{"datum":2.3},
  "y":{"datum":3739.5},
  "text":{"field":"t","type":"nominal"}
 }}
]
}
